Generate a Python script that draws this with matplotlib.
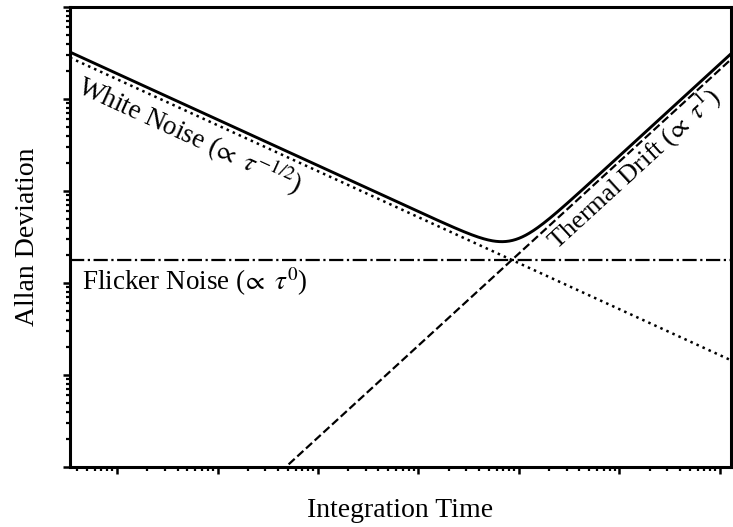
import numpy as np
import matplotlib
matplotlib.use('Agg')
from matplotlib import pyplot as plt

plt.rcParams['font.family'] = 'Liberation Serif'
plt.rcParams['mathtext.fontset'] = 'stix'

# noise model: each term is a power law through a common crossing point
tau_cross = 8500.0
sigma_cross = 178.0
slope_white = -0.5
slope_flicker = 0.0
slope_drift = 1.0
total_scale = 1.15

tau_lim = (10 ** -0.468, 10 ** 6.11)
sigma_lim = (1.0, 1e5)

tau = np.logspace(np.log10(tau_lim[0]), np.log10(tau_lim[1]), 600)
white = sigma_cross * (tau / tau_cross) ** slope_white
flicker = sigma_cross * (tau / tau_cross) ** slope_flicker
drift = sigma_cross * (tau / tau_cross) ** slope_drift
total = total_scale * np.sqrt(white ** 2 + drift ** 2)

fig = plt.figure(figsize=(7.33, 5.27), dpi=100)
ax = fig.add_axes([70 / 733, 60 / 527, 661 / 733, 460 / 527])

ax.plot(tau, total, color='black', lw=2.1, solid_capstyle='butt')
ax.plot(tau, white, color='black', lw=1.8, ls=':')
ax.plot(tau, flicker, color='black', lw=1.6, ls='-.')
ax.plot(tau, drift, color='black', lw=1.6, ls='--')

ax.set_xscale('log')
ax.set_yscale('log')
ax.set_xlim(*tau_lim)
ax.set_ylim(*sigma_lim)

for s in ax.spines.values():
    s.set_linewidth(2.2)
ax.tick_params(which='major', direction='out', length=5, width=1.8,
               labelbottom=False, labelleft=False)
ax.tick_params(which='minor', direction='out', length=3, width=1.6)

ax.set_xlabel('Integration Time', fontsize=20, labelpad=16)
ax.set_ylabel('Allan Deviation', fontsize=20, labelpad=15)


def screen_angle(x0, x1, f):
    p0 = ax.transData.transform((x0, f(x0)))
    p1 = ax.transData.transform((x1, f(x1)))
    return np.degrees(np.arctan2(p1[1] - p0[1], p1[0] - p0[0]))


def power(slope):
    return lambda t: sigma_cross * (t / tau_cross) ** slope


ang_white = screen_angle(1.0, 100.0, power(slope_white))
ang_drift = screen_angle(1e4, 1e6, power(slope_drift))

ax.text(10 ** -0.418, 10 ** 4.07, r'White Noise ($\!{\propto}\ \tau^{-1/2}$)',
        fontsize=19.5, rotation=ang_white, rotation_mode='anchor',
        ha='left', va='baseline')
ax.text(10 ** -0.349, 10 ** 1.924, r'Flicker Noise ($\!{\propto}\ \tau^{0}$)',
        fontsize=19.5, ha='left', va='baseline')
ax.text(10 ** (3.93 + 45 / 100.5), 10 ** ((467 - 251) / 92), r'Thermal Drift ($\!{\propto}\ \tau^{1}$)',
        fontsize=19, rotation=ang_drift, rotation_mode='anchor',
        ha='left', va='baseline')

fig.savefig('out.png', dpi=100)
